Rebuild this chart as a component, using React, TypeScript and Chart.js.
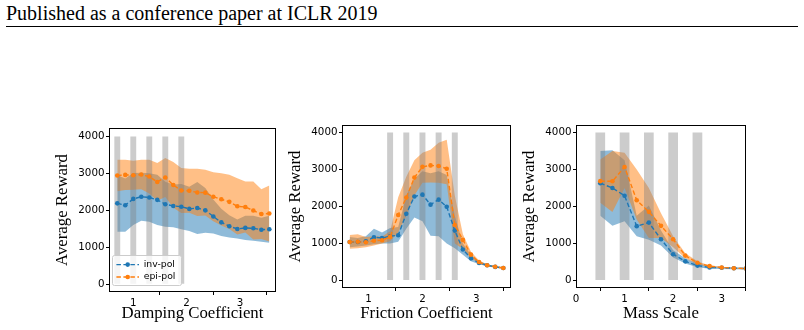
import React, { useEffect, useRef } from 'react';
import { Chart, registerables } from 'chart.js';

Chart.register(...registerables);

const BLUE = '#1f77b4';
const ORANGE = '#ff7f0e';
const BLUE_BAND = 'rgba(31,119,180,0.5)';
const ORANGE_BAND = 'rgba(255,127,14,0.5)';
const TRAIN_FILL = 'rgba(128,128,128,0.4)';
const CLEAR = 'rgba(0,0,0,0)';

const rewardTicks = [0, 1000, 2000, 3000, 4000];
const trainSpan = [0, 4000];

// ---- Damping coefficient sweep ----
const dampingX = [0.7, 0.85, 1.0, 1.15, 1.3, 1.45, 1.6, 1.75, 1.9, 2.05, 2.2, 2.35, 2.5, 2.65, 2.8, 2.95, 3.1, 3.25, 3.4, 3.55];
const dampingInvMean = [2190, 2140, 2310, 2370, 2350, 2285, 2165, 2120, 2100, 2040, 2065, 2000, 1835, 1675, 1570, 1497, 1525, 1515, 1475, 1490];
const dampingInvLow = [1421, 1421, 1603, 1720, 1693, 1603, 1557, 1540, 1486, 1440, 1359, 1395, 1377, 1304, 1268, 1240, 1196, 1177, 1150, 1123];
const dampingInvHigh = [2960, 2860, 3015, 3020, 3005, 2965, 2775, 2700, 2715, 2640, 2770, 2605, 2295, 2045, 1870, 1755, 1855, 1855, 1800, 1855];
const dampingEpiMean = [2945, 2960, 2950, 2970, 2915, 2770, 2890, 2688, 2536, 2530, 2485, 2480, 2370, 2300, 2230, 2110, 2090, 1995, 1900, 1915];
const dampingEpiLow = [2520, 2550, 2558, 2570, 2460, 2260, 2364, 2069, 1928, 1935, 1845, 1862, 1705, 1593, 1498, 1348, 1399, 1209, 1227, 1158];
const dampingEpiHigh = [3370, 3370, 3342, 3370, 3370, 3280, 3416, 3307, 3144, 3125, 3125, 3098, 3035, 3007, 2962, 2872, 2781, 2781, 2573, 2672];
const dampingTrainX = [0.7, 1.0, 1.3, 1.6, 1.9];
const dampingTicks = [1, 2, 3];

// ---- Friction coefficient sweep ----
const frictionX = [0.65, 0.8, 0.95, 1.1, 1.25, 1.4, 1.55, 1.7, 1.85, 2.0, 2.15, 2.3, 2.45, 2.6, 2.75, 2.9, 3.05, 3.2, 3.35, 3.5];
const frictionInvMean = [1040, 1040, 1060, 1170, 1150, 1195, 1225, 1805, 2270, 2320, 2050, 2185, 1995, 1350, 840, 600, 477, 415, 370, 340];
const frictionInvLow = [900, 920, 950, 980, 1000, 1000, 1050, 1400, 1700, 1600, 1210, 1200, 1000, 870, 700, 520, 440, 390, 350, 320];
const frictionInvHigh = [1180, 1150, 1200, 1400, 1300, 1420, 1450, 2300, 2750, 2950, 2900, 2950, 2850, 1750, 1000, 690, 520, 440, 390, 360];
const frictionEpiMean = [1040, 1050, 1035, 1075, 1090, 1180, 1770, 2240, 2780, 3070, 3110, 3095, 3020, 1500, 1100, 700, 500, 415, 375, 340];
const frictionEpiLow = [860, 870, 900, 950, 1000, 1060, 1300, 1750, 2300, 2640, 2650, 2640, 2600, 1000, 850, 620, 450, 390, 350, 320];
const frictionEpiHigh = [1230, 1250, 1180, 1200, 1190, 1330, 2250, 2800, 3250, 3450, 3530, 3720, 3800, 2300, 1250, 780, 540, 440, 390, 355];
const frictionTrainX = [1.4, 1.7, 2.0, 2.3, 2.6];
const frictionTicks = [1, 2, 3];

// ---- Mass scale sweep ----
const massX = [0.5, 0.75, 1.0, 1.25, 1.5, 1.75, 2.0, 2.25, 2.5, 2.75, 3.0, 3.25, 3.5];
const massInvMean = [2630, 2500, 2290, 1470, 1565, 1115, 710, 520, 405, 355, 345, 335, 326];
const massInvLow = [1750, 1480, 1600, 1200, 1100, 950, 620, 460, 360, 320, 315, 305, 300];
const massInvHigh = [3500, 3520, 3250, 1750, 2030, 1350, 820, 600, 460, 400, 370, 360, 350];
const massEpiMean = [2684, 2680, 3068, 2170, 1855, 1478, 1116, 675, 480, 390, 355, 335, 326];
const massEpiLow = [2100, 1850, 2500, 1650, 1150, 1150, 900, 600, 440, 370, 345, 325, 318];
const massEpiHigh = [3270, 3500, 3450, 3000, 2500, 1820, 1200, 740, 520, 410, 365, 345, 335];
const massTrainX = [0.5, 1.0, 1.5, 2.0, 2.5];
const massTicks = [0, 1, 2, 3];

type Band = { mean: number[]; low: number[]; high: number[] };

const TICK_FONT = { family: "'DejaVu Sans', sans-serif", size: 10.3 };
const LABEL_FONT = { family: "'Liberation Serif', 'Times New Roman', serif", size: 16.8 };

function makeDatasets(xs: number[], inv: Band, epi: Band, trainX: number[], barFraction: number): any[] {
  const pts = (ys: number[]) => xs.map((x, i) => ({ x, y: ys[i] }));
  const meanLine = (label: string, color: string, ys: number[], order: number) => ({
    type: 'line',
    label,
    data: pts(ys),
    borderColor: color,
    backgroundColor: color,
    borderWidth: 1.4,
    borderDash: [4.5, 2.5],
    pointRadius: 2.3,
    pointHoverRadius: 2.3,
    pointBackgroundColor: color,
    pointBorderWidth: 0,
    fill: false,
    tension: 0,
    order,
  });
  const edge = (ys: number[], order: number, fill: number | false = false, color = CLEAR) => ({
    type: 'line',
    data: pts(ys),
    borderColor: CLEAR,
    borderWidth: 0,
    pointRadius: 0,
    pointHoverRadius: 0,
    backgroundColor: color,
    fill,
    tension: 0,
    order,
  });
  return [
    meanLine('inv-pol', BLUE, inv.mean, 2), // 0
    meanLine('epi-pol', ORANGE, epi.mean, 1), // 1
    {
      type: 'bar',
      data: trainX.map((x) => ({ x, y: [...trainSpan] })),
      backgroundColor: TRAIN_FILL,
      borderWidth: 0,
      categoryPercentage: 1,
      barPercentage: barFraction,
      order: 3,
    }, // 2
    edge(inv.low, 7), // 3
    edge(inv.high, 6, 3, BLUE_BAND), // 4
    edge(epi.low, 5), // 5
    edge(epi.high, 4, 5, ORANGE_BAND), // 6
  ];
}

// Draws the closed axes frame and, when asked, the inset legend.
const framePlugin = {
  id: 'panelFrame',
  afterDatasetsDraw(chart: any, _args: any, opts: any) {
    const { ctx, chartArea: a } = chart;
    ctx.save();
    ctx.strokeStyle = '#000';
    ctx.lineWidth = 1;
    ctx.setLineDash([]);
    ctx.strokeRect(a.left + 0.5, a.top + 0.5, a.right - a.left - 1, a.bottom - a.top - 1);

    if (opts && opts.legend) {
      const items = chart.data.datasets.filter((d: any) => d.label);
      const bx = a.left + 3.5;
      const by = a.bottom - 36.5;
      ctx.beginPath();
      if (ctx.roundRect) ctx.roundRect(bx, by, 69, 30, 2);
      else ctx.rect(bx, by, 69, 30);
      ctx.fillStyle = 'rgba(255,255,255,0.8)';
      ctx.fill();
      ctx.strokeStyle = '#cccccc';
      ctx.lineWidth = 1;
      ctx.stroke();
      items.forEach((d: any, i: number) => {
        const cy = a.bottom - 27.4 + i * 12.4;
        ctx.setLineDash(d.borderDash);
        ctx.strokeStyle = d.borderColor;
        ctx.lineWidth = d.borderWidth;
        ctx.beginPath();
        ctx.moveTo(a.left + 7.4, cy);
        ctx.lineTo(a.left + 30, cy);
        ctx.stroke();
        ctx.setLineDash([]);
        ctx.beginPath();
        ctx.arc(a.left + 18.7, cy, d.pointRadius, 0, Math.PI * 2);
        ctx.fillStyle = d.borderColor;
        ctx.fill();
        ctx.fillStyle = '#000';
        ctx.font = "9.3px 'DejaVu Sans', sans-serif";
        ctx.textBaseline = 'middle';
        ctx.textAlign = 'left';
        ctx.fillText(d.label, a.left + 34.7, cy);
      });
    }
    ctx.restore();
  },
};

interface PanelProps {
  left: number;
  top: number;
  width: number;
  height: number;
  padTop: number;
  padRight: number;
  padBottom: number;
  yAxisWidth: number;
  xAxisHeight: number;
  yTitlePad: number;
  xs: number[];
  inv: Band;
  epi: Band;
  trainX: number[];
  barFraction: number;
  xMin: number;
  xMax: number;
  yMin: number;
  yMax: number;
  xTicks: number[];
  xTitle: string;
  legend?: boolean;
}

function Panel(p: PanelProps) {
  const ref = useRef<HTMLCanvasElement>(null);
  useEffect(() => {
    const grid = {
      display: true,
      drawOnChartArea: false,
      drawTicks: true,
      tickLength: 3,
      tickColor: '#000',
      tickWidth: 1,
    };
    const chart = new Chart(ref.current as HTMLCanvasElement, {
      type: 'line',
      data: { datasets: makeDatasets(p.xs, p.inv, p.epi, p.trainX, p.barFraction) },
      plugins: [framePlugin],
      options: {
        animation: false,
        responsive: false,
        maintainAspectRatio: false,
        devicePixelRatio: 1,
        events: [],
        layout: { padding: { left: 0, top: p.padTop, right: p.padRight, bottom: p.padBottom } },
        plugins: {
          legend: { display: false },
          tooltip: { enabled: false },
          panelFrame: { legend: !!p.legend },
        } as any,
        scales: {
          x: {
            type: 'linear',
            min: p.xMin,
            max: p.xMax,
            offset: false,
            grid,
            border: { display: false },
            afterBuildTicks: (s: any) => {
              s.ticks = p.xTicks.map((v) => ({ value: v }));
            },
            afterFit: (s: any) => {
              s.height = p.xAxisHeight;
            },
            ticks: {
              callback: (v: any) => String(v),
              font: TICK_FONT,
              color: '#000',
              padding: 2,
              maxRotation: 0,
              autoSkip: false,
            },
            title: {
              display: true,
              text: p.xTitle,
              font: LABEL_FONT,
              color: '#000',
              padding: { top: 0, bottom: 0 },
            },
          },
          y: {
            type: 'linear',
            min: p.yMin,
            max: p.yMax,
            grid,
            border: { display: false },
            afterBuildTicks: (s: any) => {
              s.ticks = rewardTicks.map((v) => ({ value: v }));
            },
            afterFit: (s: any) => {
              s.width = p.yAxisWidth;
            },
            ticks: {
              callback: (v: any) => String(v),
              font: TICK_FONT,
              color: '#000',
              padding: 1.5,
              autoSkip: false,
            },
            title: {
              display: true,
              text: 'Average Reward',
              font: LABEL_FONT,
              color: '#000',
              padding: { top: p.yTitlePad, bottom: 0 },
            },
          },
        } as any,
      },
    } as any);
    return () => chart.destroy();
  }, []);
  return (
    <canvas
      ref={ref}
      width={p.width}
      height={p.height}
      style={{ position: 'absolute', left: p.left, top: p.top, width: p.width, height: p.height }}
    />
  );
}

export default function App() {
  return (
    <div
      style={{
        position: 'fixed',
        left: 0,
        top: 0,
        width: 804,
        height: 330,
        background: '#fff',
        overflow: 'hidden',
      }}
    >
      <div
        style={{
          position: 'absolute',
          left: 6,
          top: 3,
          fontFamily: "'Liberation Serif', 'Times New Roman', serif",
          fontSize: 20,
          lineHeight: '20px',
          color: '#000',
          whiteSpace: 'nowrap',
        }}
      >
        Published as a conference paper at ICLR 2019
      </div>
      <div style={{ position: 'absolute', left: 6, top: 26, width: 792, height: 1, background: '#000' }} />

      <Panel
        left={40}
        top={110}
        width={240}
        height={220}
        padTop={18}
        padRight={4}
        padBottom={6.4}
        yAxisWidth={69}
        xAxisHeight={31.6}
        yTitlePad={12.3}
        xs={dampingX}
        inv={{ mean: dampingInvMean, low: dampingInvLow, high: dampingInvHigh }}
        epi={{ mean: dampingEpiMean, low: dampingEpiLow, high: dampingEpiHigh }}
        trainX={dampingTrainX}
        barFraction={0.367}
        xMin={0.545}
        xMax={3.675}
        yMin={-210}
        yMax={4230}
        xTicks={dampingTicks}
        xTitle="Damping Coefficient"
        legend
      />
      <Panel
        left={280}
        top={107}
        width={240}
        height={223}
        padTop={18}
        padRight={9}
        padBottom={6.3}
        yAxisWidth={62}
        xAxisHeight={35.7}
        yTitlePad={6}
        xs={frictionX}
        inv={{ mean: frictionInvMean, low: frictionInvLow, high: frictionInvHigh }}
        epi={{ mean: frictionEpiMean, low: frictionEpiLow, high: frictionEpiHigh }}
        trainX={frictionTrainX}
        barFraction={0.367}
        xMin={0.5075}
        xMax={3.6425}
        yMin={-200}
        yMax={4200}
        xTicks={frictionTicks}
        xTitle="Friction Coefficient"
      />
      <Panel
        left={516}
        top={107}
        width={284}
        height={223}
        padTop={18}
        padRight={54}
        padBottom={6.3}
        yAxisWidth={60}
        xAxisHeight={35.7}
        yTitlePad={4}
        xs={massX}
        inv={{ mean: massInvMean, low: massInvLow, high: massInvHigh }}
        epi={{ mean: massEpiMean, low: massEpiLow, high: massEpiHigh }}
        trainX={massTrainX}
        barFraction={0.4}
        xMin={0}
        xMax={3.5}
        yMin={-200}
        yMax={4200}
        xTicks={massTicks}
        xTitle="Mass Scale"
      />
    </div>
  );
}
